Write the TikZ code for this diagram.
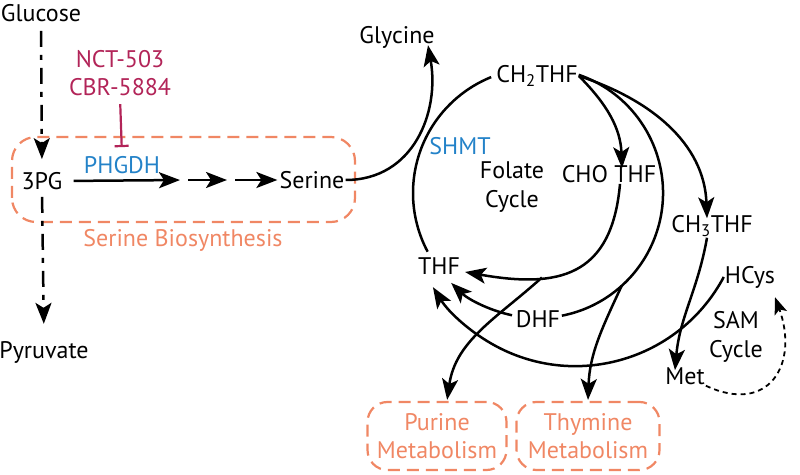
\documentclass[tikz,border=0pt]{standalone}
\usepackage{fontspec}
\setmainfont{PT Sans}
\usetikzlibrary{arrows.meta}
\definecolor{serorange}{RGB}{240,135,100}
\definecolor{drugred}{RGB}{178,36,88}
\definecolor{enzblue}{RGB}{35,130,200}

\begin{document}
\begin{tikzpicture}[x=1pt,y=1pt,
	lbl/.style={font=\fontsize{24}{28.5}\selectfont, inner sep=1pt, align=center},
	flow/.style={line width=2.5pt, -{Stealth[length=21pt,width=16pt,inset=5pt]}},
	glyc/.style={flow, dash pattern=on 16pt off 8pt on 5pt off 8pt},
	pathbox/.style={lbl, serorange, draw, line width=2.2pt, dash pattern=on 12pt off 7pt, rounded corners=20pt}
	]
	
	\useasboundingbox (0,0) rectangle (800,474);
	
	\def\rfolate{125};
	\def\rmet{168};
	
	% glycolysis and serine synthesis
	\node[lbl] (glucose) at (41,461) {Glucose};
	\node[lbl] (pg3) at (42,293) {3PG};
	\node[lbl] (pyruvate) at (44,122) {Pyruvate};
	\node[lbl, drugred] (drugs) at (120,401) {NCT-503\\CBR-5884};
	\node[lbl, enzblue] (phgdh) at (122,309) {PHGDH};
	\node[lbl] (serine) at (312,294) {Serine};
	\node[lbl, serorange] (serbio) at (183,234) {Serine Biosynthesis};
	\coordinate (step1) at (184,294);
	\coordinate (step2) at (231,294);
	
	\draw[serorange, line width=2.2pt, dash pattern=on 12pt off 7pt, rounded corners=24pt] (12,252) rectangle (355,337);
	
	\draw[glyc, shorten <=8pt, shorten >=12pt] (glucose.south) -- (pg3.north);
	\draw[glyc, shorten <=6pt, shorten >=16pt] (pg3.south) -- (pyruvate.north);
	\draw[drugred, line width=2.2pt, -{Bar[width=14pt,line width=2.2pt]}, shorten <=7pt, shorten >=8pt] (drugs.south) -- (phgdh.north);
	\draw[flow, shorten <=10pt, shorten >=4pt] (pg3.east) -- (step1);
	\draw[flow, shorten <=4pt, shorten >=4pt] (step1) -- (step2);
	\draw[flow, shorten <=4pt, shorten >=1pt] (step2) -- (serine.west);
	
	% folate cycle
	\coordinate (fc) at (538,281);
	\node[lbl] (glycine) at (397,437) {Glycine};
	\node[lbl] (ch2thf) at (537,398) {CH\textsubscript{2}THF};
	\node[lbl] (chothf) at (609,300) {CHO THF};
	\node[lbl] (ch3thf) at (712,248) {CH\textsubscript{3}THF};
	\node[lbl, enzblue] (shmt) at (460,328) {SHMT};
	\node[lbl] (folate) at (512,287) {Folate\\Cycle};
	\node[lbl] (thf) at (439,208) {THF};
	\node[lbl] (dhf) at (538,155) {DHF};
	\node[pathbox, minimum width=139pt, minimum height=68pt] (purine) at (437,38) {Purine\\Metabolism};
	\node[pathbox, minimum width=143pt, minimum height=68pt] (thymine) at (588,38) {Thymine\\Metabolism};
	
	\draw[line width=2.5pt] ([shift={(208:\rfolate)}]fc) arc (208:112:\rfolate);
	\draw[line width=2.5pt] ([shift={(71:\rfolate)}]fc) arc (71:-79:\rfolate);
	\draw[flow] ([shift={(258:\rfolate)}]fc) arc (258:226:\rfolate);
	\coordinate (tybranch) at ([shift={(-48:\rfolate)}]fc);
	\draw[flow, shorten >=1pt] (tybranch) to[out=245, in=88] (thymine.north);
	
	\draw[flow] (serine.east) to[out=0, in=-80, looseness=1.1] ([xshift=31pt, yshift=4pt]glycine.south);
	\draw[flow] (ch2thf.east) to[out=-45, in=92] ([xshift=13pt, yshift=-4pt]chothf.north);
	\draw[flow] (ch2thf.east) to[out=-18, in=92] ([xshift=-5pt, yshift=-4pt]ch3thf.north);
	\draw[flow] ([xshift=11pt]chothf.south) to[out=-95, in=-10, looseness=1.35] coordinate[pos=0.68] (prbranch) ([xshift=4pt, yshift=-6pt]thf.east);
	\draw[flow, shorten >=1pt] (prbranch) to[out=222, in=82] ([xshift=10pt]purine.north);
	
	% SAM cycle
	\node[lbl] (hcys) at (750,197) {HCys};
	\node[lbl] (met) at (685,98) {Met};
	\node[lbl] (sam) at (736,137) {SAM\\Cycle};
	
	\draw[flow] ([xshift=-5pt]ch3thf.south) to[out=-100, in=85] ([xshift=-10pt, yshift=-4pt]met.north);
	\draw[flow] (hcys.west) arc (-28:-148:\rmet);
	\draw[line width=1.8pt, dash pattern=on 5pt off 4pt, -{Stealth[length=17pt,width=13pt,inset=4pt]}] (met.south east) to[out=-25, in=-70, looseness=1.6] ([xshift=25pt, yshift=-8pt]hcys.south);
	
\end{tikzpicture}
\end{document}
